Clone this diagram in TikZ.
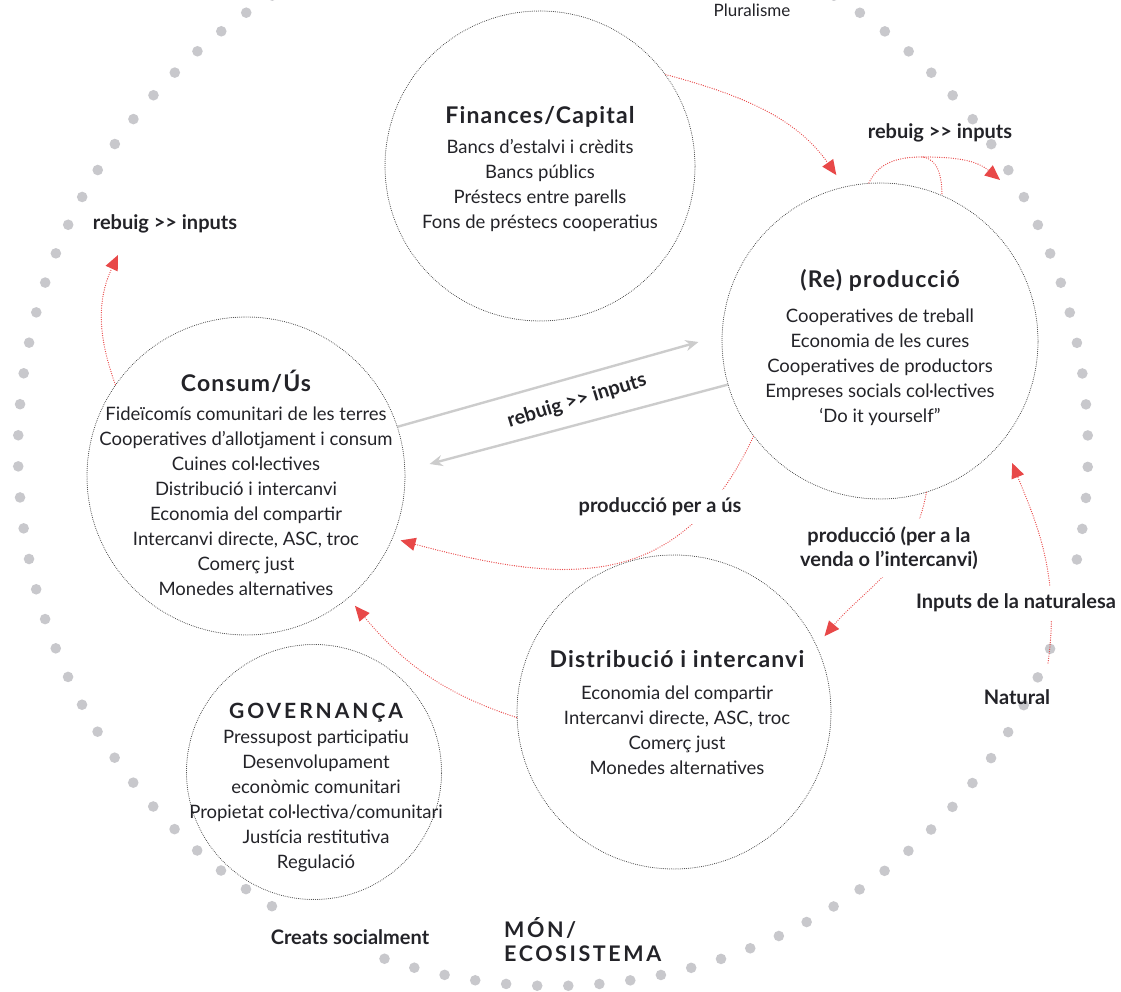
\documentclass[tikz,border=0pt]{standalone}
\usepackage{fontspec}
\setmainfont{Lato}
\usetikzlibrary{arrows.meta,positioning,calc}
\definecolor{ringgray}{RGB}{200,200,204}
\definecolor{flowred}{RGB}{232,72,72}
\definecolor{txtdark}{RGB}{35,35,40}
\tikzstyle{every node}=[text=txtdark]
\tikzstyle{every path}=[line cap=round,line join=round]
\tikzstyle{sector}=[circle,draw=black!80,line width=1pt,dash pattern=on 0pt off 1.9pt]
\tikzstyle{body}=[align=center,inner sep=0pt,font=\fontsize{18.5}{25}\selectfont]
\tikzstyle{lbl}=[font=\fontsize{20}{23.5}\selectfont\bfseries,inner sep=1pt]
\tikzstyle{cover}=[lbl,fill=white,inner xsep=3pt,inner ysep=8pt]
\tikzstyle{flow}=[draw=flowred,line width=1.3pt,dash pattern=on 0pt off 2.3pt,-{Triangle[length=15pt,width=13pt]},fill=none]
\tikzstyle{waste}=[draw=black!20,line width=2.4pt,-{Stealth[length=13pt,width=11pt]}]
\newcommand{\ttl}[1]{{\fontsize{23}{25}\selectfont\bfseries\addfontfeatures{LetterSpace=5}#1}}
\newcommand{\dblgt}{>\kern0pt>}

\begin{document}
\begin{tikzpicture}[x=1pt,y=1pt]
\useasboundingbox (0,0) rectangle (1121,991);

% outer ring of dots
\foreach \k in {0,...,71,75,76,...,101,104,105,...,107}
  \fill[ringgray] ({553+535*cos(1.667+3.333*\k)},{540+535*sin(1.667+3.333*\k)}) circle (5.3pt);

\node[sector,minimum size=310pt] (fin) at (540,825) {};
\node[body] (finTxt) at (540,822) {\ttl{Finances/Capital}\\[5pt]
  Bancs d'estalvi i crèdits\\ Bancs públics\\ Préstecs entre parells\\ Fons de préstecs cooperatius};

\node[sector,minimum size=316pt] (prod) at (880,650) {};
\node[body] (prodTxt) at (880,643) {\ttl{(Re) producció}\\[10pt]
  Cooperatives de treball\\ Economia de les cures\\ Cooperatives de productors\\
  Empreses socials col·lectives\\ `Do it yourself''};

\node[sector,minimum size=318pt] (cons) at (246,515) {};
\node[body] (consTxt) at (246,508) {\ttl{Consum/Ús}\\[4pt]
  Fideïcomís comunitari de les terres\\ Cooperatives d'allotjament i consum\\
  Cuines col·lectives\\ Distribució i intercanvi\\ Economia del compartir\\
  Intercanvi directe, ASC, troc\\ Comerç just\\ Monedes alternatives};

\node[sector,minimum size=314pt] (distr) at (674,279) {};
\node[body] (distrTxt) at (677,278) {\ttl{Distribució i intercanvi}\\[7pt]
  Economia del compartir\\ Intercanvi directe, ASC, troc\\ Comerç just\\ Monedes alternatives};

\node[sector,minimum size=255pt] (gov) at (314,219) {};
\node[body] (govTxt) at (316,203) {{\fontsize{21}{25}\selectfont\bfseries\addfontfeatures{LetterSpace=14}GOVERNANÇA}\\
  Pressupost participatiu\\ Desenvolupament\\ econòmic comunitari\\
  Propietat col·lectiva/comunitari\\ Justícia restitutiva\\ Regulació};

% grey exchange
\draw[waste,shorten >=24pt] (cons.18) -- (prod.178);
\draw[waste,shorten >=25pt] (prod.196) -- (cons.2);
\node[lbl,rotate=17] (lRebuigM) at (577,590) {rebuig \dblgt{} inputs};

% red flows
\coordinate (peak) at (922,834);
\coordinate (wasteR) at (1000,811);
\coordinate (wasteL) at (118,736);
\coordinate (natSrc) at (1048,328);
\draw[flow,shorten >=14pt] (fin.36) to[out=-15,in=125] (prod.103);
\draw[flow] (prod.94) to[out=65,in=180] (peak) to[out=0,in=140] (wasteR);
\draw[draw=flowred,line width=1.3pt,dash pattern=on 0pt off 2.3pt] (peak) to[out=-5,in=90] (prod.67);
\draw[flow] (cons.145) to[out=110,in=-115] (wasteL);
\draw[flow,shorten >=8pt] (prod.217) to[out=245,in=-15,looseness=1.2] (cons.-23);
\draw[flow,shorten >=12pt] (prod.-73) to[out=-100,in=50] (distr.25);
\draw[flow,shorten >=24pt] (natSrc) to[out=82,in=-68] (prod.-39);
\draw[flow,shorten >=10pt] (distr.182) to[out=162,in=-50] (cons.-50);

% labels
\node[font=\fontsize{17}{18}\selectfont] (lPlural) at (752,981) {Pluralisme};
\node[lbl] (lRebuigR) at (940,858) {rebuig \dblgt{} inputs};
\node[lbl] (lRebuigL) at (165,767) {rebuig \dblgt{} inputs};
\node[cover] (lUs) at (660,484) {producció per a ús};
\node[cover,align=center] (lVenda) at (889,443) {producció (per a la\\ venda o l'intercanvi)};
\node[cover] (lNat) at (1016,388) {Inputs de la naturalesa};
\node[lbl] (lNatural) at (1017,294) {Natural};
\node[lbl] (lCreats) at (350,54) {Creats socialment};
\node[lbl,anchor=west,align=left,font=\fontsize{21.5}{24}\selectfont\bfseries\addfontfeatures{LetterSpace=12}] (lMon) at (503,51) {MÓN/\\ECOSISTEMA};
\end{tikzpicture}
\end{document}
